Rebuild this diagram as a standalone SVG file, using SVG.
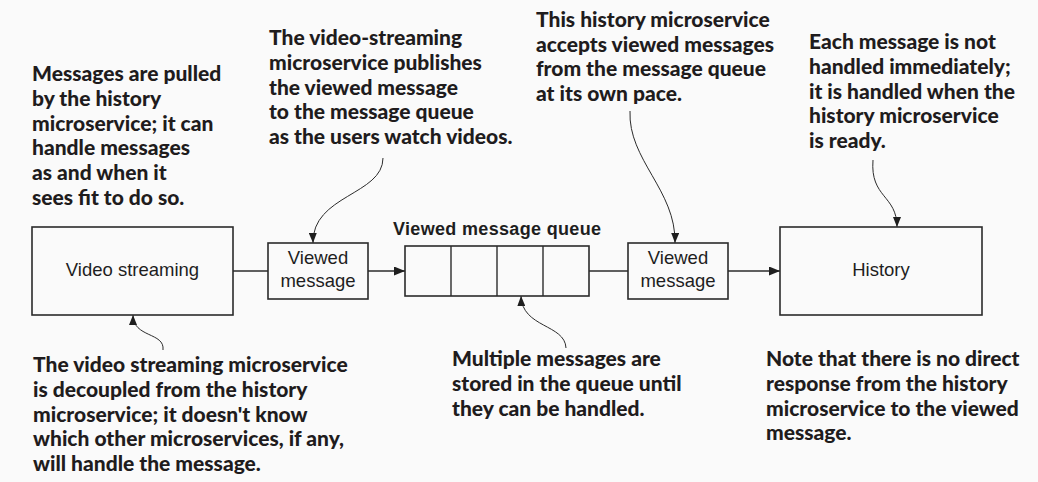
<svg xmlns="http://www.w3.org/2000/svg" width="1038" height="482" viewBox="0 0 1038 482">
<defs>
<style>
.bg{fill:#fafafa}
.box{fill:#fafafa;stroke:#2b2b2b;stroke-width:1.6}
.lbl{font-family:"Liberation Sans",Arial,sans-serif;font-size:18.5px;fill:#1e1e1e;text-anchor:middle}
.qlbl{font-family:"Liberation Sans",Arial,sans-serif;font-size:18px;font-weight:bold;fill:#1e1e1e}
.note{font-family:Lato,"Noto Sans",sans-serif;font-size:21px;font-weight:900;fill:#1f1c1d}
.conn{fill:none;stroke:#2b2b2b;stroke-width:1.4}
.call{fill:none;stroke:#2b2b2b;stroke-width:1}
</style>
<marker id="ah" markerUnits="userSpaceOnUse" markerWidth="11" markerHeight="9" refX="11" refY="4.5" orient="auto">
<path d="M0,0 L11,4.5 L0,9 z" fill="#1e1e1e"/>
</marker>
<marker id="ahs" markerUnits="userSpaceOnUse" markerWidth="10" markerHeight="8" refX="10" refY="4" orient="auto">
<path d="M0,0 L10,4 L0,8 z" fill="#1e1e1e"/>
</marker>
</defs>
<rect class="bg" x="0" y="0" width="1038" height="482"/>

<g id="connectors">
<line class="conn" x1="233" y1="271" x2="268" y2="271"/>
<line class="conn" x1="368" y1="271" x2="405" y2="271" marker-end="url(#ah)"/>
<line class="conn" x1="589" y1="271" x2="628" y2="271"/>
<line class="conn" x1="728" y1="271" x2="780" y2="271" marker-end="url(#ah)"/>
<path class="call" d="M383,158 C383,195 312,195 313,243" marker-end="url(#ahs)"/>
<path class="call" d="M630,111 C628,160 676,190 675,243" marker-end="url(#ahs)"/>
<path class="call" d="M873,160 C870,198 897,195 897,227" marker-end="url(#ahs)"/>
<path class="call" d="M163,350 C165,332 133,338 133,315" marker-end="url(#ahs)"/>
<path class="call" d="M566,348 C565,324 522,328 521,296" marker-end="url(#ahs)"/>
</g>

<g id="video-streaming">
<rect class="box" x="32" y="227" width="201" height="88"/>
<text class="lbl" x="132.5" y="276">Video streaming</text>
</g>

<g id="viewed-message-1">
<rect class="box" x="268" y="243" width="100" height="56"/>
<text class="lbl" x="318" y="264">Viewed</text>
<text class="lbl" x="318" y="287">message</text>
</g>

<g id="message-queue">
<text class="qlbl" x="393" y="235" textLength="208" lengthAdjust="spacing">Viewed message queue</text>
<rect class="box" x="405" y="246" width="184" height="50"/>
<line class="conn" x1="451" y1="246" x2="451" y2="296"/>
<line class="conn" x1="497" y1="246" x2="497" y2="296"/>
<line class="conn" x1="543" y1="246" x2="543" y2="296"/>
</g>

<g id="viewed-message-2">
<rect class="box" x="628" y="243" width="100" height="56"/>
<text class="lbl" x="678" y="264">Viewed</text>
<text class="lbl" x="678" y="287">message</text>
</g>

<g id="history">
<rect class="box" x="780" y="227" width="202" height="88"/>
<text class="lbl" x="881" y="276">History</text>
</g>

<g id="note-pulled">
<text class="note" x="32" y="81">Messages are pulled</text>
<text class="note" x="32" y="105.8">by the history</text>
<text class="note" x="32" y="130.6">microservice; it can</text>
<text class="note" x="32" y="155.4">handle messages</text>
<text class="note" x="32" y="180.2">as and when it</text>
<text class="note" x="32" y="205">sees fit to do so.</text>
</g>

<g id="note-publishes">
<text class="note" x="269" y="45">The video-streaming</text>
<text class="note" x="269" y="69.8">microservice publishes</text>
<text class="note" x="269" y="94.6">the viewed message</text>
<text class="note" x="269" y="119.4">to the message queue</text>
<text class="note" x="269" y="144.2">as the users watch videos.</text>
</g>

<g id="note-accepts">
<text class="note" x="536" y="27">This history microservice</text>
<text class="note" x="536" y="51.5">accepts viewed messages</text>
<text class="note" x="536" y="76">from the message queue</text>
<text class="note" x="536" y="100.5">at its own pace.</text>
</g>

<g id="note-not-immediate">
<text class="note" x="809" y="49">Each message is not</text>
<text class="note" x="809" y="73.8">handled immediately;</text>
<text class="note" x="809" y="98.6">it is handled when the</text>
<text class="note" x="809" y="123.4">history microservice</text>
<text class="note" x="809" y="148.2">is ready.</text>
</g>

<g id="note-decoupled">
<text class="note" x="33" y="372">The video streaming microservice</text>
<text class="note" x="33" y="396.8">is decoupled from the history</text>
<text class="note" x="33" y="421.6">microservice; it doesn't know</text>
<text class="note" x="33" y="446.4">which other microservices, if any,</text>
<text class="note" x="33" y="471.2">will handle the message.</text>
</g>

<g id="note-stored">
<text class="note" x="452" y="366">Multiple messages are</text>
<text class="note" x="452" y="390.8">stored in the queue until</text>
<text class="note" x="452" y="415.6">they can be handled.</text>
</g>

<g id="note-no-response">
<text class="note" x="766" y="366">Note that there is no direct</text>
<text class="note" x="766" y="390.8">response from the history</text>
<text class="note" x="766" y="415.6">microservice to the viewed</text>
<text class="note" x="766" y="440.4">message.</text>
</g>
</svg>
